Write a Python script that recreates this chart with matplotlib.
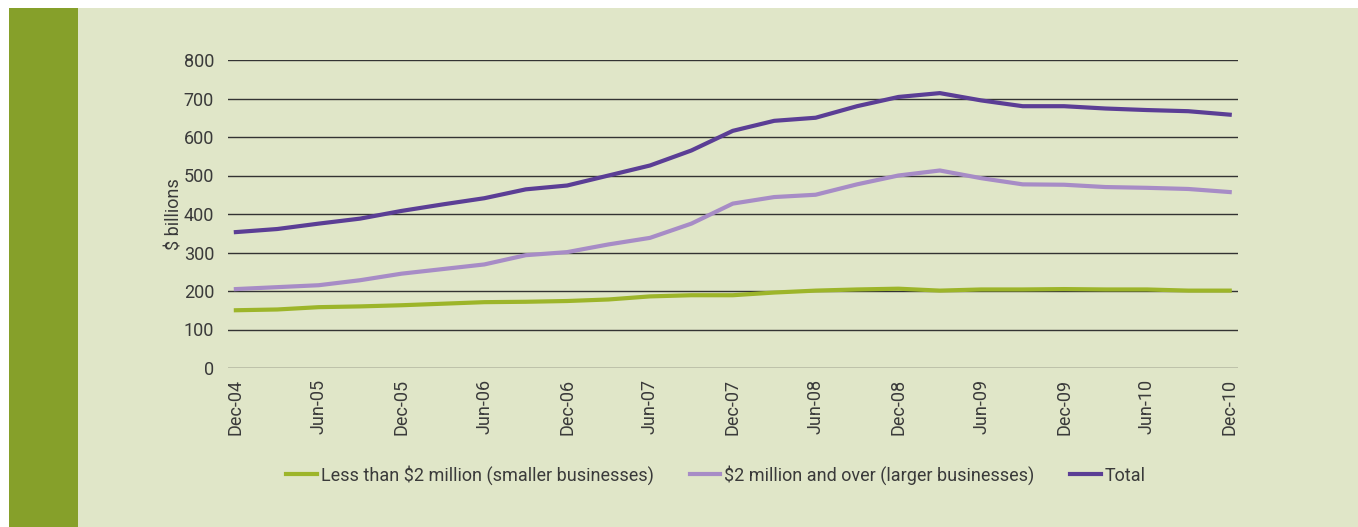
import numpy as np
import matplotlib.pyplot as plt
from matplotlib.patches import Rectangle

# quarterly, Dec-04 .. Dec-10
quarters = ["Dec-04", "Mar-05", "Jun-05", "Sep-05", "Dec-05", "Mar-06", "Jun-06",
            "Sep-06", "Dec-06", "Mar-07", "Jun-07", "Sep-07", "Dec-07", "Mar-08",
            "Jun-08", "Sep-08", "Dec-08", "Mar-09", "Jun-09", "Sep-09", "Dec-09",
            "Mar-10", "Jun-10", "Sep-10", "Dec-10"]

smaller = [150, 152, 158, 160, 163, 167, 171, 172, 174, 178, 186, 189, 189,
           196, 201, 204, 206, 201, 204, 204, 205, 204, 204, 201, 201]
larger = [205, 210, 215, 228, 245, 257, 269, 293, 301, 321, 338, 375, 427,
          444, 450, 477, 500, 513, 493, 477, 476, 470, 468, 465, 457]
total = [353, 361, 375, 388, 408, 425, 441, 464, 474, 500, 526, 565, 616,
         642, 650, 680, 704, 714, 695, 680, 680, 674, 670, 667, 658]

bg = "#E0E6C8"
txt = "#3a3a3a"
fig = plt.figure(figsize=(13.58, 5.27), dpi=100)
fig.patch.set_facecolor("white")

# panel background and green side strip
fig.patches.append(Rectangle((9 / 1358, 0), 1, 1 - 8 / 527, transform=fig.transFigure,
                             facecolor=bg, edgecolor="none", zorder=-2))
fig.patches.append(Rectangle((9 / 1358, 0), 69 / 1358, 1 - 8 / 527, transform=fig.transFigure,
                             facecolor="#86A02A", edgecolor="none", zorder=-1))

ax = fig.add_axes([228 / 1358, 1 - 368 / 527, 1010 / 1358, 308 / 527])
ax.set_facecolor("none")
ax.set_zorder(1)

x = np.arange(len(quarters))
ax.plot(x, smaller, color="#9DB52A", lw=3, label="Less than $2 million (smaller businesses)", zorder=3)
ax.plot(x, larger, color="#A78CC6", lw=3, label="$2 million and over (larger businesses)", zorder=3)
ax.plot(x, total, color="#5B3E95", lw=3, label="Total", zorder=3)

ax.set_xlim(-0.19, 24.2)
ax.set_ylim(0, 800)
ax.set_yticks(range(0, 801, 100))
ax.yaxis.grid(True, color="#333333", lw=1)
ax.set_axisbelow(True)
for s in ax.spines.values():
    s.set_visible(False)

ax.set_xticks(x[::2])
ax.set_xticklabels(quarters[::2], rotation=90)
ax.tick_params(axis="both", length=0, labelsize=13, colors=txt)
ax.tick_params(axis="x", pad=8)
ax.tick_params(axis="y", pad=10)
ax.set_ylabel("$ billions", fontsize=13, color=txt, labelpad=0)

for t in ax.get_xticklabels() + ax.get_yticklabels():
    t.set_fontfamily("Roboto")
ax.yaxis.label.set_fontfamily("Roboto")

leg = fig.legend(loc="center", bbox_to_anchor=(716 / 1358, 1 - 475 / 527), ncol=3,
                 frameon=False, handlelength=1.7, handletextpad=0.2, columnspacing=2.0,
                 prop={"family": "Roboto", "size": 13})
for t in leg.get_texts():
    t.set_color(txt)

fig.savefig("out.png", dpi=100, facecolor=fig.get_facecolor())
